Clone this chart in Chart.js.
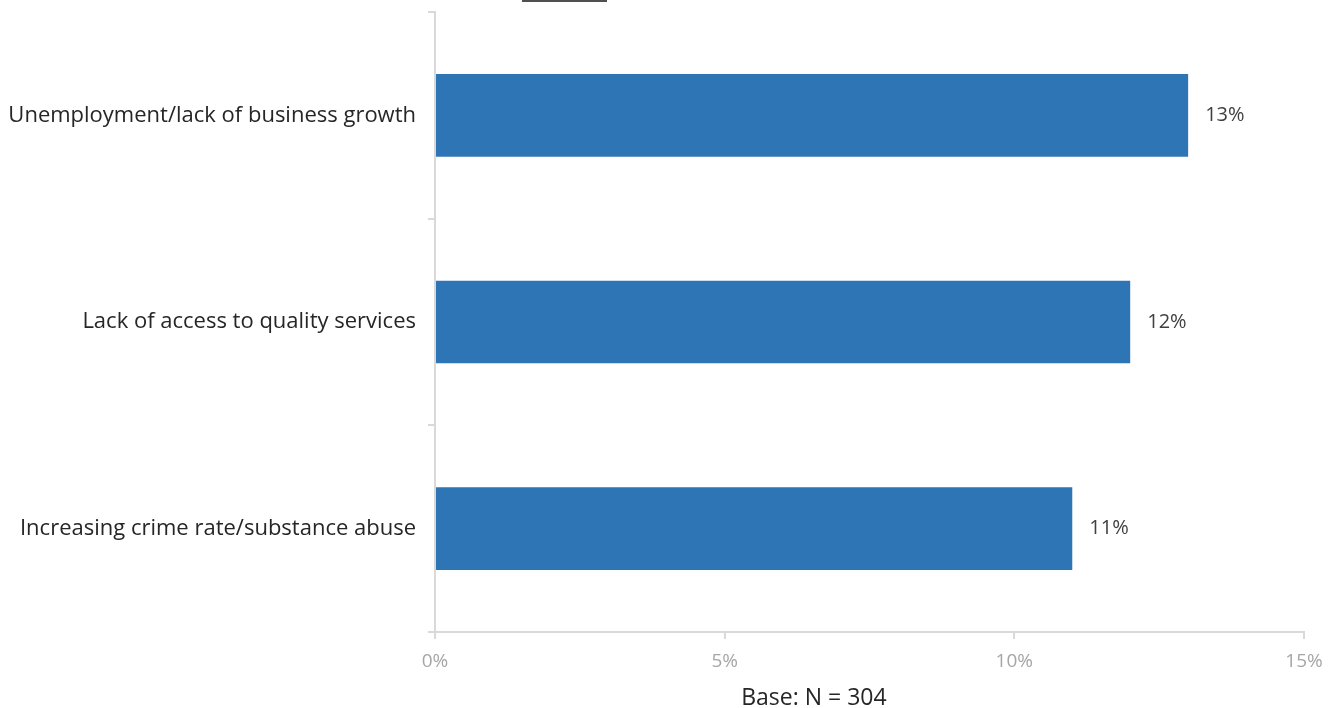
<!DOCTYPE html>
<html>
<head>
<meta charset="utf-8">
<script src="https://cdn.jsdelivr.net/npm/chart.js@4/dist/chart.umd.min.js"></script>
<style>
  html, body { margin: 0; padding: 0; background: #fff; }
  #wrap { position: relative; width: 1340px; height: 708px; }
  #topmark { position: absolute; left: 522px; top: 0; width: 85px; height: 2px; background: #505050; }
</style>
</head>
<body>
<div id="wrap">
  <canvas id="bar-chart" width="1340" height="708"></canvas>
  <div id="topmark"></div>
</div>
<script>
// data
const categories = ["Unemployment/lack of business growth", "Lack of access to quality services", "Increasing crime rate/substance abuse"];
const values = [13, 12, 11];
const tickValues = [0, 5, 10, 15];
const axisTitle = "Base: N = 304";

const FONT = "'Open Sans', sans-serif";

// draw the % next to each bar
const valueLabels = {
  id: 'valueLabels',
  afterDatasetsDraw(chart) {
    const ctx = chart.ctx;
    const meta = chart.getDatasetMeta(0);
    ctx.save();
    ctx.font = "20px " + FONT;
    ctx.fillStyle = "#404040";
    ctx.textAlign = "left";
    ctx.textBaseline = "middle";
    meta.data.forEach(function(bar, i) {
      ctx.fillText(values[i] + "%", bar.x + 17, bar.y);
    });
    ctx.restore();
  }
};

// axis title sits a bit left of the plot centre in the original
const baseTitle = {
  id: 'baseTitle',
  afterDraw(chart) {
    const ctx = chart.ctx;
    const area = chart.chartArea;
    ctx.save();
    ctx.font = "23px " + FONT;
    ctx.fillStyle = "#262626";
    ctx.textAlign = "center";
    ctx.textBaseline = "middle";
    ctx.fillText(axisTitle, area.left + (area.right - area.left) * 0.436, chart.height - 10);
    ctx.restore();
  }
};

new Chart(document.getElementById("bar-chart"), {
  type: 'bar',
  data: {
    labels: categories,
    datasets: [{
      data: values,
      backgroundColor: "#2E75B6",
      barPercentage: 0.8,
      categoryPercentage: 0.5
    }]
  },
  plugins: [valueLabels, baseTitle],
  options: {
    indexAxis: 'y',
    responsive: false,
    animation: false,
    layout: { padding: { top: 0, right: 36, left: 0, bottom: 0 } },
    plugins: {
      legend: { display: false },
      tooltip: { enabled: false }
    },
    scales: {
      x: {
        min: 0,
        max: 15,
        afterBuildTicks: function(scale) {
          scale.ticks = tickValues.map(v => ({ value: v }));
        },
        grid: { display: true, drawOnChartArea: false, drawTicks: true, tickLength: 7, color: "#d9d9d9", lineWidth: 2 },
        border: { display: true, color: "#d9d9d9", width: 2 },
        ticks: {
          color: "#a6a6a6",
          font: { family: FONT, size: 19, lineHeight: 1 },
          padding: 13,
          callback: v => v + "%"
        },
        title: {
          // space only, text drawn by baseTitle
          display: true,
          text: axisTitle,
          color: "rgba(0,0,0,0)",
          font: { family: FONT, size: 21, lineHeight: 1 },
          padding: { top: 3, bottom: 0 }
        }
      },
      y: {
        afterFit: function(scale) {
          scale.width = 435;
          scale.paddingTop = 12;
          scale.paddingBottom = 0;
        },
        grid: { display: true, drawOnChartArea: false, drawTicks: true, tickLength: 7, color: "#d9d9d9", lineWidth: 2, offset: true },
        border: { display: true, color: "#d9d9d9", width: 2 },
        ticks: {
          color: "#262626",
          font: { family: FONT, size: 22 },
          padding: 12
        }
      }
    }
  }
});
</script>
</body>
</html>
